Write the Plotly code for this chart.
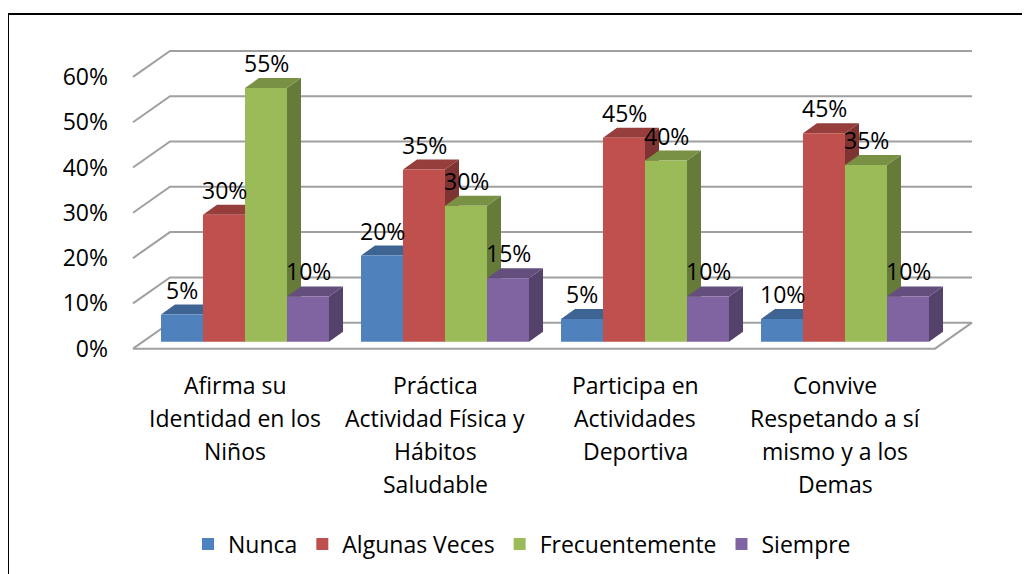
import plotly.graph_objects as go

# ---------------- data ----------------
categories = [
    ["Afirma su", "Identidad en los", "Niños"],
    ["Práctica", "Actividad Física y", "Hábitos", "Saludable"],
    ["Participa en", "Actividades", "Deportiva"],
    ["Convive", "Respetando a sí", "mismo y a los", "Demas"],
]
series_names = ["Nunca", "Algunas Veces", "Frecuentemente", "Siempre"]
# bar heights as drawn
nunca = [0.06, 0.19, 0.05, 0.05]
algunas = [0.28, 0.38, 0.45, 0.46]
frecuente = [0.56, 0.30, 0.40, 0.39]
siempre = [0.10, 0.14, 0.10, 0.10]
# data labels as printed
nunca_lbl = ["5%", "20%", "5%", "10%"]
algunas_lbl = ["30%", "35%", "45%", "45%"]
frecuente_lbl = ["55%", "30%", "40%", "35%"]
siempre_lbl = ["10%", "15%", "10%", "10%"]
y_ticks = [0, 0.1, 0.2, 0.3, 0.4, 0.5, 0.6]

# ---------------- style ----------------
colors = ["#4F81BD", "#C0504D", "#9BBB59", "#8064A2"]
FONT = "'Open Sans', sans-serif"
FS = 23
OFF = 8  # page body margin
W, H = 1030 - OFF, 574 - OFF
ML, MT = 125 - OFF, 45 - OFF
PW, PH = 860, 308
MR, MB = W - ML - PW, H - MT - PH
XR = [-0.6, 3.7]
YR = [-0.025, 0.655]
BARGAP = 0.16
GRID = "#A0A0A0"


def darker(hexc, f):
    r, g, b = int(hexc[1:3], 16), int(hexc[3:5], 16), int(hexc[5:7], 16)
    return "#%02x%02x%02x" % (int(r * f), int(g * f), int(b * f))


px_per_x = PW / (XR[1] - XR[0])
px_per_y = PH / (YR[1] - YR[0])

# 3D geometry in data units
FLOOR_FRONT = -7 / px_per_y
FLOOR_DX = 37 / px_per_x
FLOOR_DY = 26 / px_per_y
FLOOR_X0 = -0.56
FLOOR_X1 = 3.45
BAR_DX = 14 / px_per_x
BAR_DY = 10 / px_per_y

values = [nunca, algunas, frecuente, siempre]
labels = [nunca_lbl, algunas_lbl, frecuente_lbl, siempre_lbl]
nser = len(values)
bw = (1 - BARGAP) / nser

fig = go.Figure()
for s in range(nser):
    fig.add_trace(go.Bar(
        x=list(range(len(categories))), y=values[s], name=series_names[s],
        marker=dict(color=colors[s], line=dict(width=0)),
    ))

shapes = []
# back wall grid lines + left wall diagonals
for v in y_ticks:
    yf = v + FLOOR_FRONT
    yb = yf + FLOOR_DY
    shapes.append(dict(type="path", xref="x", yref="y",
                       path=f"M {FLOOR_X0},{yf} L {FLOOR_X0 + FLOOR_DX},{yb} L {FLOOR_X1 + FLOOR_DX},{yb}",
                       line=dict(color=GRID, width=2), layer="below"))
# floor front + right edge
yf = FLOOR_FRONT
shapes.append(dict(type="path", xref="x", yref="y",
                   path=f"M {FLOOR_X0},{yf} L {FLOOR_X1},{yf} L {FLOOR_X1 + FLOOR_DX},{yf + FLOOR_DY}",
                   line=dict(color=GRID, width=2), layer="below"))

annotations = []
for c in range(len(categories)):
    for s in range(nser):
        x0 = c - (1 - BARGAP) / 2 + s * bw
        x1 = x0 + bw
        h = values[s][c]
        top = darker(colors[s], 0.78)
        side = darker(colors[s], 0.66)
        shapes.append(dict(type="path", xref="x", yref="y", layer="below",
                           path=f"M {x1},0 L {x1},{h} L {x1 + BAR_DX},{h + BAR_DY} L {x1 + BAR_DX},{BAR_DY} Z",
                           fillcolor=side, line=dict(width=0)))
        shapes.append(dict(type="path", xref="x", yref="y", layer="below",
                           path=f"M {x0},{h} L {x1},{h} L {x1 + BAR_DX},{h + BAR_DY} L {x0 + BAR_DX},{h + BAR_DY} Z",
                           fillcolor=top, line=dict(width=0)))
        annotations.append(dict(x=(x0 + x1) / 2, y=h, xref="x", yref="y", text=labels[s][c],
                                showarrow=False, yshift=25, yanchor="middle",
                                font=dict(family=FONT, size=FS, color="#000000")))
    # category labels, line by line
    for k, line in enumerate(categories[c]):
        annotations.append(dict(x=c, y=0, xref="x", yref="y", text=line, showarrow=False,
                                xshift=-10, yshift=-(43 + 33 * k), yanchor="middle",
                                font=dict(family=FONT, size=FS, color="#000000")))


def paper_x(px):
    return (px - OFF - ML) / PW


def paper_y(py):
    return (H - MB - (py - OFF)) / PH


# outer chart border (top and left sides visible)
shapes.append(dict(type="line", xref="paper", yref="paper",
                   x0=paper_x(8), y0=paper_y(14), x1=paper_x(1032), y1=paper_y(14),
                   line=dict(color="#000000", width=2)))
shapes.append(dict(type="line", xref="paper", yref="paper",
                   x0=paper_x(8), y0=paper_y(14), x1=paper_x(8), y1=paper_y(576),
                   line=dict(color="#000000", width=2)))

fig.update_layout(
    width=W, height=H,
    margin=dict(l=ML, r=MR, t=MT, b=MB, autoexpand=False),
    paper_bgcolor="white", plot_bgcolor="rgba(0,0,0,0)",
    barmode="group", bargap=BARGAP, bargroupgap=0,
    font=dict(family=FONT, size=FS, color="#000000"),
    shapes=shapes, annotations=annotations,
    legend=dict(orientation="h", x=paper_x(522), y=paper_y(544), xanchor="center", yanchor="middle",
                font=dict(family=FONT, size=FS, color="#000000"), itemsizing="constant",
                itemwidth=30),
    xaxis=dict(range=XR, showgrid=False, zeroline=False, showticklabels=False, showline=False, fixedrange=True),
    yaxis=dict(range=YR, tickvals=y_ticks, tickformat=".0%", showgrid=False, zeroline=False, showline=False,
               ticks="", ticklabelstandoff=16, ticklabelshift=7,
               tickfont=dict(family=FONT, size=FS, color="#000000")),
)

fig.write_html("out.html")
